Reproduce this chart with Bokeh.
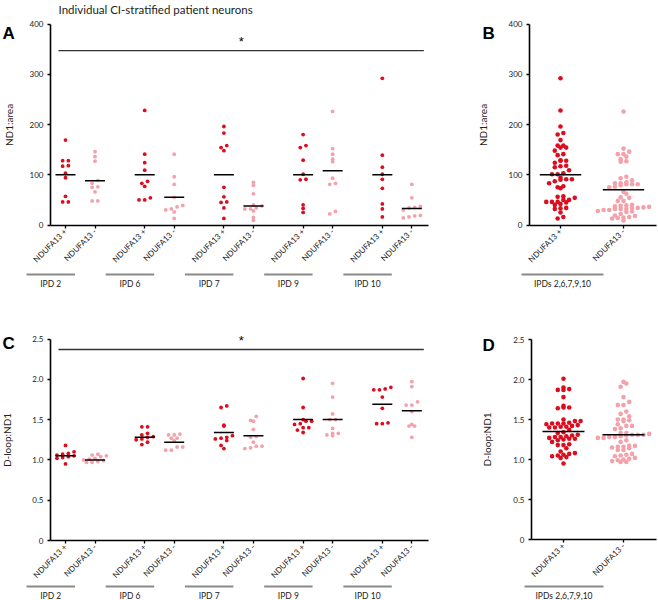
import math
import numpy as np
from bokeh.plotting import figure
from bokeh.layouts import column, row
from bokeh.models import Range1d, FixedTicker, NumeralTickFormatter
from bokeh.embed import file_html
from bokeh.resources import INLINE
from bokeh.core.properties import value

# ---------------- data ----------------
title_text = "Individual CI-stratified patient neurons"
groups = ["IPD 2", "IPD 6", "IPD 7", "IPD 9", "IPD 10"]
pooled_label = "IPDs 2,6,7,9,10"
cond_labels = ["NDUFA13 +", "NDUFA13 -"]
panel_letters = ["A", "B", "C", "D"]
area_label = "ND1:area"
dloop_label = "D-loop:ND1"

area_plus = [
    [169, 128, 128, 117, 118, 103, 94, 57, 46, 46],
    [228, 141, 124, 109, 83, 87, 77, 54, 50, 50],
    [196, 183, 154, 158, 148, 75, 56, 45, 46, 34, 13],
    [180, 154, 158, 129, 101, 90, 91, 40, 33, 25],
    [292, 139, 115, 101, 91, 73, 42, 32, 16],
]
area_minus = [
    [136, 146, 127, 89, 83, 75, 76, 66, 48, 48],
    [141, 96, 81, 55, 39, 36, 32, 30, 26, 13],
    [79, 85, 62, 32, 28, 38, 40, 34, 32, 9, 15],
    [226, 152, 141, 131, 126, 93, 83, 81, 27, 22],
    [81, 54, 37, 35, 34, 30, 19, 18, 16, 14],
]
area_plus_mean = [100, 100, 100, 100, 100]
area_minus_mean = [88, 55, 38, 108, 33]
area_pooled_mean = [100, 70]

dloop_plus = [
    [1.18, 1.10, 1.08, 1.07, 1.06, 1.05, 1.04, 1.03, 1.02, 0.95],
    [1.41, 1.41, 1.33, 1.31, 1.29, 1.28, 1.26, 1.25, 1.22, 1.19],
    [1.67, 1.65, 1.43, 1.42, 1.30, 1.28, 1.27, 1.26, 1.24, 1.18, 1.14],
    [2.01, 1.65, 1.50, 1.48, 1.48, 1.45, 1.44, 1.40, 1.40, 1.37, 1.34],
    [1.90, 1.88, 1.87, 1.87, 1.78, 1.64, 1.46, 1.45, 1.45],
]
dloop_minus = [
    [1.07, 1.06, 1.05, 1.04, 1.02, 1.01, 1.00, 0.99, 0.98, 0.97, 0.97],
    [1.32, 1.31, 1.31, 1.27, 1.27, 1.24, 1.16, 1.16, 1.12, 1.12],
    [1.54, 1.49, 1.48, 1.38, 1.29, 1.28, 1.22, 1.17, 1.17, 1.15, 1.14],
    [1.95, 1.78, 1.57, 1.50, 1.50, 1.39, 1.33, 1.33, 1.31, 1.30],
    [1.97, 1.91, 1.72, 1.68, 1.68, 1.60, 1.44, 1.42, 1.42, 1.28],
]
dloop_plus_mean = [1.05, 1.28, 1.34, 1.50, 1.69]
dloop_minus_mean = [1.00, 1.22, 1.30, 1.50, 1.61]
dloop_pooled_mean = [1.35, 1.31]

area_yticks = [0, 100, 200, 300, 400]
dloop_yticks = [0, 0.5, 1.0, 1.5, 2.0, 2.5]
dloop_ytick_labels = ["0", "0.5", "1.0", "1.5", "2.0", "2.5"]

area_sig = 347      # significance bar level (panel A)
dloop_sig = 2.37    # significance bar level (panel C)

# ---------------- style ----------------
RED = "#dc0d1f"
PINK = "#f3a2ab"
FONT = "Lato"
TXT = "#222222"
GROUP_STEP = 2.685

plus_pos = [round(g * GROUP_STEP, 3) for g in range(len(groups))]
minus_pos = [round(x + 1, 3) for x in plus_pos]


class Panel:
    """A figure whose frame covers its whole canvas; px <-> data helpers.
    X/Y are page pixel positions (page origin at top-left)."""

    def __init__(self, cx0, cy0, W, H, X0, xppu, Y0, yppu):
        self.cx0, self.cy0, self.W, self.H = cx0, cy0, W, H
        self.X0, self.xppu, self.Y0, self.yppu = X0, xppu, Y0, yppu
        xr = Range1d(self.dx(cx0), self.dx(cx0 + W))
        yr = Range1d(self.dy(cy0 + H), self.dy(cy0))
        p = figure(width=W, height=H, x_range=xr, y_range=yr,
                   min_border=0, min_border_left=0, min_border_right=0,
                   min_border_top=0, min_border_bottom=0,
                   toolbar_location=None, tools="", output_backend="svg")
        p.grid.visible = False
        p.outline_line_color = None
        p.background_fill_color = "white"
        p.border_fill_color = "white"
        self.p = p

    def dx(self, X):
        return (X - self.X0) / self.xppu

    def dy(self, Y):
        return (self.Y0 - Y) / self.yppu

    def text(self, X, Y, txt, size, font=FONT, style="normal", align="left",
             baseline="alphabetic", color=TXT):
        self.p.text(x=[self.dx(X)], y=[self.dy(Y)], text=[txt],
                    text_font=value(font), text_font_size=value(size),
                    text_font_style=style, text_align=align,
                    text_baseline=baseline, text_color=color)


def style_axes(P, yaxis_X, xaxis_end_X, ylabel, yticks, ybounds, ystandoff):
    p = P.p
    for ax in (p.xaxis[0], p.yaxis[0]):
        ax.axis_line_color = "black"
        ax.axis_line_width = 1.6
        ax.major_tick_line_color = "black"
        ax.major_tick_line_width = 1.3
        ax.major_tick_in = 0
        ax.major_tick_out = 3
        ax.minor_tick_line_color = None
        ax.major_label_text_font = FONT
        ax.major_label_text_font_size = "8px"
        ax.major_label_text_color = TXT
    ya = p.yaxis[0]
    ya.fixed_location = P.dx(yaxis_X)
    ya.ticker = FixedTicker(ticks=yticks)
    ya.bounds = ybounds
    ya.major_label_standoff = 4
    ya.axis_label = ylabel
    ya.axis_label_text_font = FONT
    ya.axis_label_text_font_size = "10px"
    ya.axis_label_text_font_style = "normal"
    ya.axis_label_text_color = TXT
    ya.axis_label_standoff = ystandoff
    xa = p.xaxis[0]
    xa.fixed_location = 0
    xa.bounds = (P.dx(yaxis_X), P.dx(xaxis_end_X))
    xa.major_label_orientation = math.pi / 4
    xa.major_label_standoff = 2


def swarm(vals, y_ppu, row_px, col_px):
    v = np.asarray(vals, dtype=float)
    rows = np.floor(v * y_ppu / row_px).astype(int)
    off = np.zeros(len(v))
    for r in np.unique(rows):
        idx = np.where(rows == r)[0]
        idx = idx[np.argsort(v[idx], kind="stable")]
        n = len(idx)
        for k, i in enumerate(idx):
            off[i] = (k - (n - 1) / 2.0) * col_px
    return off


def group_marks(P, plus_list, minus_list, names, line_Y, text_Y):
    x0 = [pp - 39.0 / P.xppu for pp in plus_list]
    x1 = [mm - 20.0 / P.xppu for mm in minus_list]
    ly = P.dy(line_Y)
    P.p.segment(x0=x0, x1=x1, y0=[ly] * len(x0), y1=[ly] * len(x0),
                line_color="#8a8a8a", line_width=2)
    P.p.text(x=[(a + b) / 2 for a, b in zip(x0, x1)], y=[P.dy(text_Y)] * len(x0),
             text=names, text_align="center", text_baseline="middle",
             text_font=value(FONT), text_font_size=value("8.5px"), text_color=TXT)


def per_group_panel(P, plus_vals, minus_vals, plus_mean, minus_mean, sig_y, star_Y):
    p = P.p
    xs, ys, cs = [], [], []
    for g in range(len(groups)):
        for pos, vals, col in ((plus_pos[g], plus_vals[g], RED),
                               (minus_pos[g], minus_vals[g], PINK)):
            off = swarm(vals, P.yppu, 5.0, 5.7) / P.xppu
            xs += list(pos + off)
            ys += list(vals)
            cs += [col] * len(vals)
    p.scatter(xs, ys, size=3.8, fill_color=cs, line_color=None)
    hw = 10.0 / P.xppu
    mx = plus_pos + minus_pos
    my = plus_mean + minus_mean
    p.segment(x0=[x - hw for x in mx], x1=[x + hw for x in mx], y0=my, y1=my,
              line_color="black", line_width=1.5)
    x0 = plus_pos[0] - 7.0 / P.xppu
    x1 = minus_pos[-1] + 12.0 / P.xppu
    p.segment(x0=[x0], x1=[x1], y0=[sig_y], y1=[sig_y], line_color="#333333",
              line_width=1.3)
    p.text(x=[(x0 + x1) / 2], y=[P.dy(star_Y)], text=["*"], text_align="center",
           text_baseline="middle", text_font=value("Liberation Sans"),
           text_font_size=value("13px"), text_color="black")
    ticks, labels = [], {}
    for g in range(len(groups)):
        ticks += [plus_pos[g], minus_pos[g]]
        labels[plus_pos[g]] = cond_labels[0]
        labels[minus_pos[g]] = cond_labels[1]
    p.xaxis[0].ticker = FixedTicker(ticks=sorted(ticks))
    p.xaxis[0].major_label_overrides = labels


def pooled_panel(P, plus_vals, minus_vals, means, bar_px):
    p = P.p
    allp = [v for g in plus_vals for v in g]
    allm = [v for g in minus_vals for v in g]
    for pos, vals, col in ((0, allp, RED), (1, allm, PINK)):
        off = swarm(vals, P.yppu, 4.6, 5.7) / P.xppu
        p.scatter(list(pos + off), vals, size=4.6, fill_color=col, line_color=None)
    hw = bar_px / P.xppu
    p.segment(x0=[0 - hw, 1 - hw], x1=[0 + hw, 1 + hw], y0=means, y1=means,
              line_color="black", line_width=1.5)
    p.xaxis[0].ticker = FixedTicker(ticks=[0, 1])
    p.xaxis[0].major_label_overrides = {0: cond_labels[0], 1: cond_labels[1]}


def letter(P, X, Y, txt):
    P.text(X, Y, txt, "17px", font="Liberation Sans", style="bold", color="black")


# ---------- Panel A ----------
A = Panel(0, 0, 470, 300, 65.0, 29.5, 224.5, 0.5025)
style_axes(A, 50, 428, area_label, area_yticks, (0, 400), 12)
per_group_panel(A, area_plus, area_minus, area_plus_mean, area_minus_mean,
                area_sig, 40.5)
group_marks(A, plus_pos, minus_pos, groups, 274, 283)
A.text(58, 2, title_text, "11.5px", baseline="top")
letter(A, 2, 33, panel_letters[0])

# ---------- Panel B ----------
B = Panel(470, 0, 188, 300, 560.0, 63.0, 224.5, 0.5025)
style_axes(B, 529, 656, area_label, area_yticks, (0, 400), 17)
pooled_panel(B, area_plus, area_minus, area_pooled_mean, 20.7)
group_marks(B, [0], [1], [pooled_label], 274, 283)
letter(B, 482, 33, panel_letters[1])

# ---------- Panel C ----------
C = Panel(0, 300, 470, 300, 65.0, 29.5, 540.0, 80.6)
style_axes(C, 50, 428, dloop_label, dloop_yticks, (0, 2.5), 16)
C.p.yaxis[0].formatter = NumeralTickFormatter(format="0.0")
C.p.yaxis[0].major_label_overrides = dict(zip(dloop_yticks, dloop_ytick_labels))
per_group_panel(C, dloop_plus, dloop_minus, dloop_plus_mean, dloop_minus_mean,
                dloop_sig, 339.5)
group_marks(C, plus_pos, minus_pos, groups, 586, 595)
letter(C, 2, 343, panel_letters[2])

# ---------- Panel D ----------
D = Panel(470, 300, 188, 300, 563.0, 60.0, 539.0, 80.0)
style_axes(D, 531, 656, dloop_label, dloop_yticks, (0, 2.5), 17)
D.p.yaxis[0].formatter = NumeralTickFormatter(format="0.0")
D.p.yaxis[0].major_label_overrides = dict(zip(dloop_yticks, dloop_ytick_labels))
pooled_panel(D, dloop_plus, dloop_minus, dloop_pooled_mean, 21.0)
group_marks(D, [0], [1], [pooled_label], 586, 595)
letter(D, 482, 345, panel_letters[3])

layout = column(row(A.p, B.p), row(C.p, D.p))
open("out.html", "w").write(file_html(layout, INLINE))
